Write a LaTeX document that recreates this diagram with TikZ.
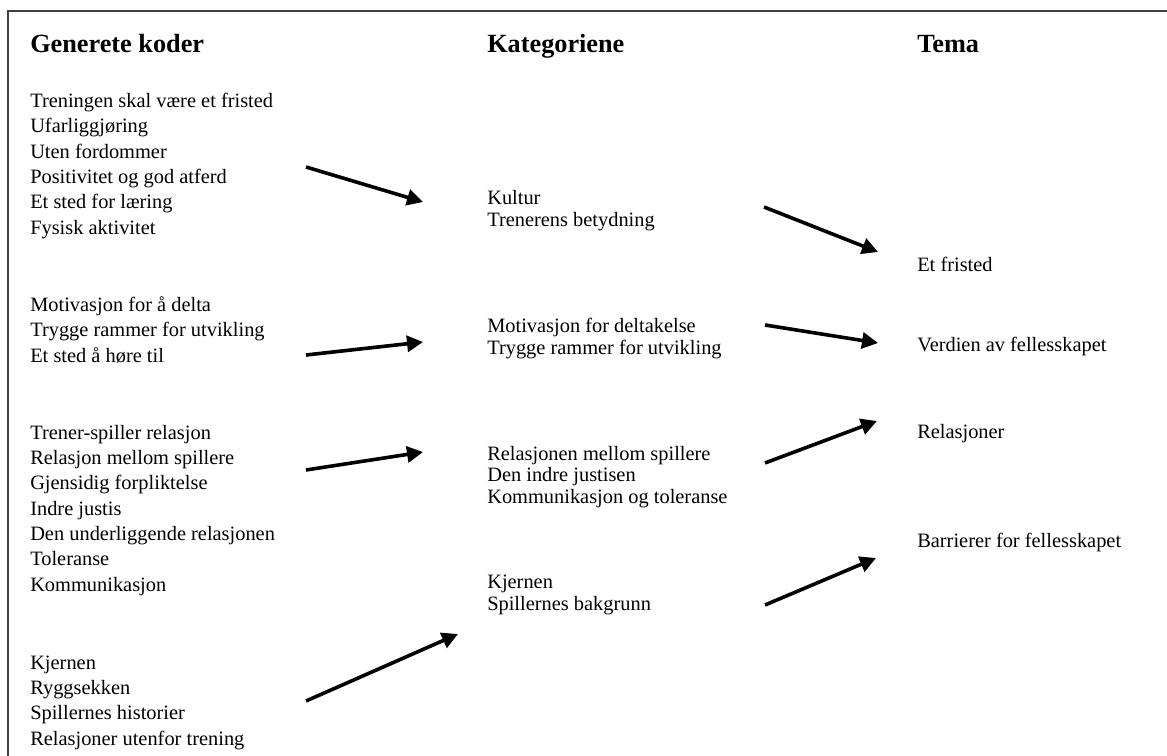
\documentclass[tikz,border=0pt]{standalone}
\usepackage{fontspec}
\setmainfont{Liberation Serif}
\usetikzlibrary{arrows.meta}
\begin{document}
\begin{tikzpicture}[x=0.75pt,y=-0.75pt,
        overskrift/.style = {anchor=base west, inner sep=0pt, font=\fontsize{19.7}{22}\selectfont\bfseries},
        koder/.style = {anchor=base west, inner sep=0pt, align=left, font=\fontsize{15.3}{19}\selectfont},
        kategori/.style = {anchor=base west, inner sep=0pt, align=left, font=\fontsize{15.3}{15.8}\selectfont},
        pil/.style = {line width=2.7pt, -{Triangle[length=12pt,width=12pt]}}]
        \useasboundingbox (0,0) rectangle (1167,756);
        \draw[line width=1.1pt, black!75] (8,756) -- (8,11) -- (1167,11);
        % overskrifter
        \node[overskrift] (hkoder) at (30,53) {Generete koder};
        \node[overskrift] (hkat) at (487,53) {Kategoriene};
        \node[overskrift] (htema) at (917,53) {Tema};
        % koder (base = siste linje)
        \node[koder] (kode1) at (30,234) {Treningen skal være et fristed\\Ufarliggjøring\\Uten fordommer\\Positivitet og god atferd\\Et sted for læring\\Fysisk aktivitet};
        \node[koder] (kode2) at (30,362) {Motivasjon for å delta\\Trygge rammer for utvikling\\Et sted å høre til};
        \node[koder] (kode3) at (30,591) {Trener-spiller relasjon\\Relasjon mellom spillere\\Gjensidig forpliktelse\\Indre justis\\Den underliggende relasjonen\\Toleranse\\Kommunikasjon};
        \node[koder] (kode4) at (30,745) {Kjernen\\Ryggsekken\\Spillernes historier\\Relasjoner utenfor trening};
        % kategorier
        \node[kategori] (kat1) at (487,226) {Kultur\\Trenerens betydning};
        \node[kategori] (kat2) at (487,354) {Motivasjon for deltakelse\\Trygge rammer for utvikling};
        \node[kategori] (kat3) at (487,503) {Relasjonen mellom spillere\\Den indre justisen\\Kommunikasjon og toleranse};
        \node[kategori] (kat4) at (487,610) {Kjernen\\Spillernes bakgrunn};
        % tema
        \node[kategori] (tema1) at (917,271) {Et fristed};
        \node[kategori] (tema2) at (917,351) {Verdien av fellesskapet};
        \node[kategori] (tema3) at (917,438) {Relasjoner};
        \node[kategori] (tema4) at (917,547) {Barrierer for fellesskapet};
        % piler
        \coordinate (k1) at (306,167); \coordinate (k1e) at (423,202);
        \coordinate (k2) at (306,355); \coordinate (k2e) at (423,342);
        \coordinate (k3) at (306,470); \coordinate (k3e) at (423,452);
        \coordinate (k4) at (306,701); \coordinate (k4e) at (458,634);
        \coordinate (t1) at (764,207); \coordinate (t1e) at (878,252);
        \coordinate (t2) at (765,325); \coordinate (t2e) at (878,343);
        \coordinate (t3) at (765,463); \coordinate (t3e) at (877,421);
        \coordinate (t4) at (765,605); \coordinate (t4e) at (876,558);
        \foreach \a in {k1,k2,k3,k4,t1,t2,t3,t4}
            \draw[pil] (\a) -- (\a e);
    \end{tikzpicture}
\end{document}
